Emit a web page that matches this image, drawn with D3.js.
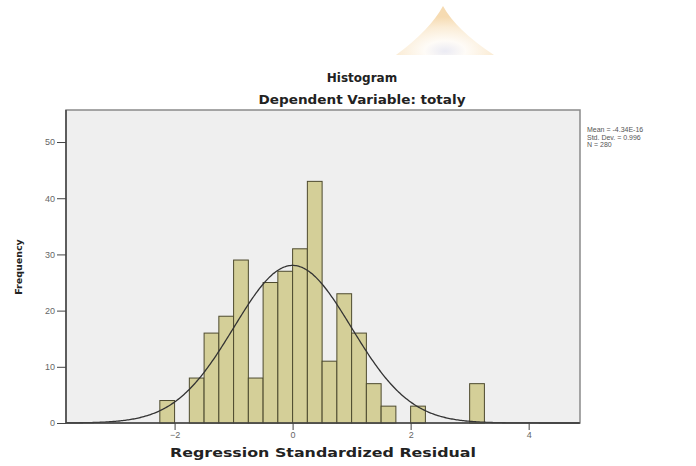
<!DOCTYPE html>
<html>
<head>
<meta charset="utf-8">
<script src="https://cdn.jsdelivr.net/npm/d3@7"></script>
<style>
  body { margin: 0; background: #fff; }
  svg { display: block; font-family: "Liberation Sans", Arial, sans-serif; }
</style>
</head>
<body>
<div class="graph"></div>
<script>
// bin start values (residual) and counts, bin width 0.25
var binStarts = [-2.25, -2.0, -1.75, -1.5, -1.25, -1.0, -0.75, -0.5, -0.25, 0, 0.25, 0.5, 0.75, 1.0, 1.25, 1.5, 1.75, 2.0, 2.25, 2.5, 2.75, 3.0];
var binCounts = [4, 0, 8, 16, 19, 29, 8, 25, 27, 31, 43, 11, 23, 16, 7, 3, 0, 3, 0, 0, 0, 7];
var binWidth = 0.25;

var xTicks = [-2, 0, 2, 4];
var yTicks = [0, 10, 20, 30, 40, 50];

// summary stats shown at the right
var statMean = -4.34e-16;
var statSd = 0.996;
var statN = 280;
var statLines = ["Mean = -4.34E-16", "Std. Dev. = 0.996", "N = 280"];

var width = 696, height = 466;
var plot = {left: 66, right: 580, top: 110, bottom: 423};
var boldFont = "\"DejaVu Sans\", Verdana, sans-serif";

var svg = d3.select("div.graph").append("svg")
    .attr("width", width)
    .attr("height", height);

// faint watermark at the top
var defs = svg.append("defs");
var grad = defs.append("radialGradient")
    .attr("id", "wm")
    .attr("cx", "50%").attr("cy", "92%").attr("r", "70%");
grad.append("stop").attr("offset", "0%").attr("stop-color", "#e4e4f0");
grad.append("stop").attr("offset", "30%").attr("stop-color", "#fefaf4");
grad.append("stop").attr("offset", "70%").attr("stop-color", "#f9e6c8");
grad.append("stop").attr("offset", "100%").attr("stop-color", "#f3cf98");

svg.append("path")
    .attr("d", "M396,55 Q430,30 443,6 Q456,30 494,55 Z")
    .attr("fill", "url(#wm)")
    .attr("opacity", 0.75);

var x = d3.scaleLinear().domain([-3.84, 4.87]).range([plot.left, plot.right]);
var y = d3.scaleLinear().domain([0, 55.7]).range([plot.bottom, plot.top]);

// plot background
svg.append("rect")
    .attr("x", plot.left)
    .attr("y", plot.top)
    .attr("width", plot.right - plot.left)
    .attr("height", plot.bottom - plot.top)
    .attr("fill", "#efefef")
    .attr("stroke", "#8a8a8a")
    .attr("stroke-width", 1.5);

// bars
var bins = binStarts.map(function(s, i) { return {x0: s, x1: s + binWidth, count: binCounts[i]}; })
    .filter(function(d) { return d.count > 0; });

svg.selectAll("rect.bar")
    .data(bins)
    .enter().append("rect")
      .attr("class", "bar")
      .attr("x", function(d) { return x(d.x0); })
      .attr("y", function(d) { return y(d.count); })
      .attr("width", function(d) { return x(d.x1) - x(d.x0); })
      .attr("height", function(d) { return y(0) - y(d.count); })
      .attr("fill", "#d4cf98")
      .attr("stroke", "#4d4a2e")
      .attr("stroke-width", 1);

// fitted normal curve: N * bin width * density
var curvePts = d3.range(-3.84, 4.87, 0.02).map(function(v) {
  var z = (v - statMean) / statSd;
  return [v, statN * binWidth * Math.exp(-0.5 * z * z) / (statSd * Math.sqrt(2 * Math.PI))];
});

svg.append("path")
    .datum(curvePts)
    .attr("fill", "none")
    .attr("stroke", "#333")
    .attr("stroke-width", 1.3)
    .attr("d", d3.line()
      .x(function(d) { return x(d[0]); })
      .y(function(d) { return y(d[1]); }));

// axes
var yAxis = svg.append("g")
    .attr("transform", "translate(" + plot.left + ",0)")
    .call(d3.axisLeft(y).tickValues(yTicks).tickSize(9).tickPadding(2));

var xAxis = svg.append("g")
    .attr("transform", "translate(0," + plot.bottom + ")")
    .call(d3.axisBottom(x).tickValues(xTicks).tickSize(7).tickPadding(2)
      .tickFormat(d3.format("d")));

[xAxis, yAxis].forEach(function(g) {
  g.select(".domain").remove();
  g.selectAll(".tick line").attr("stroke", "#444");
  g.selectAll(".tick text")
    .attr("fill", "#666")
    .style("font-size", "9px")
    .style("font-family", "\"Liberation Sans\", Arial, sans-serif");
});

// axis lines drawn over the frame
svg.append("line")
    .attr("x1", plot.left).attr("x2", plot.left)
    .attr("y1", plot.top).attr("y2", plot.bottom)
    .attr("stroke", "#444").attr("stroke-width", 1.5);
svg.append("line")
    .attr("x1", plot.left).attr("x2", plot.right)
    .attr("y1", plot.bottom).attr("y2", plot.bottom)
    .attr("stroke", "#444").attr("stroke-width", 1.5);

// titles
svg.append("text")
    .attr("x", 362).attr("y", 82)
    .attr("text-anchor", "middle")
    .attr("font-family", boldFont)
    .attr("font-weight", "bold")
    .attr("font-size", 12)
    .attr("fill", "#222")
    .text("Histogram");

svg.append("text")
    .attr("x", 362).attr("y", 104)
    .attr("text-anchor", "middle")
    .attr("font-family", boldFont)
    .attr("font-weight", "bold")
    .attr("font-size", 12)
    .attr("fill", "#222")
    .attr("textLength", 207)
    .attr("lengthAdjust", "spacingAndGlyphs")
    .text("Dependent Variable: totaly");

svg.append("text")
    .attr("x", 323).attr("y", 457)
    .attr("text-anchor", "middle")
    .attr("font-family", boldFont)
    .attr("font-weight", "bold")
    .attr("font-size", 13)
    .attr("fill", "#222")
    .attr("textLength", 306)
    .attr("lengthAdjust", "spacingAndGlyphs")
    .text("Regression Standardized Residual");

svg.append("text")
    .attr("transform", "translate(22,267) rotate(-90)")
    .attr("text-anchor", "middle")
    .attr("font-family", boldFont)
    .attr("font-weight", "bold")
    .attr("font-size", 9.5)
    .attr("fill", "#222")
    .text("Frequency");

// stats box text
svg.selectAll("text.stat")
    .data(statLines)
    .enter().append("text")
      .attr("class", "stat")
      .attr("x", 587)
      .attr("y", function(d, i) { return 132 + i * 7.5; })
      .attr("font-size", 7)
      .attr("fill", "#555")
      .text(function(d) { return d; });
</script>
</body>
</html>
